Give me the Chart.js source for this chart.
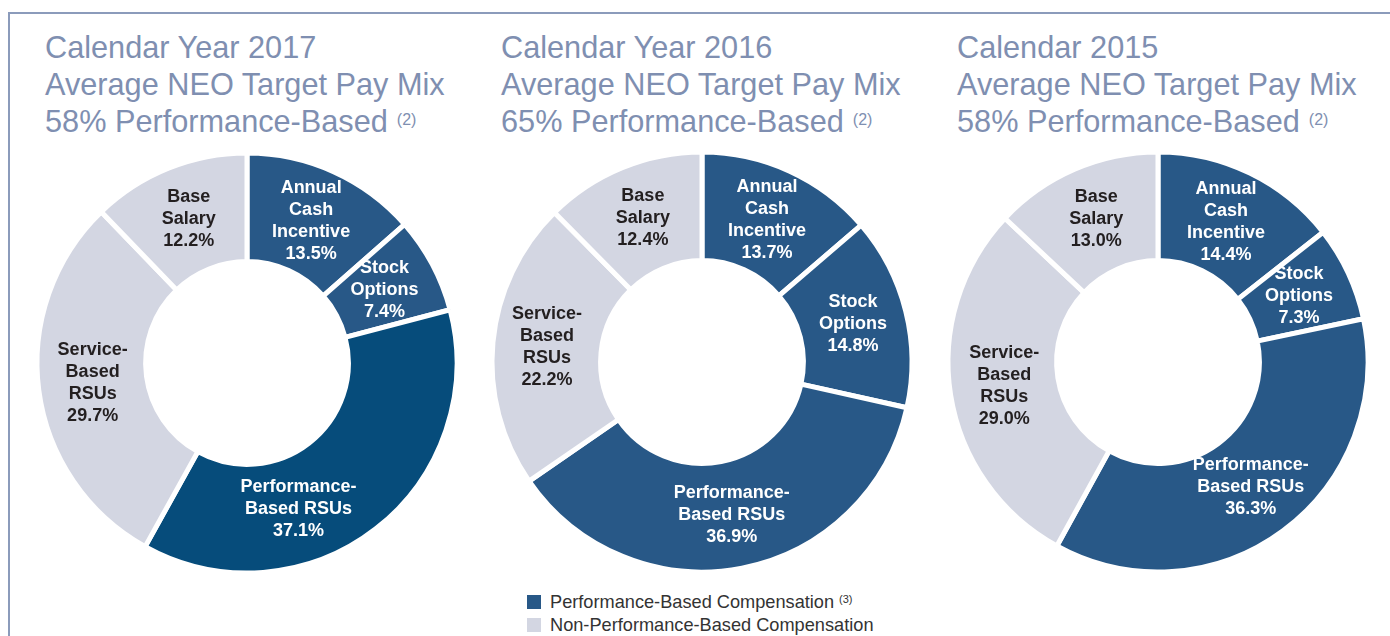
<!DOCTYPE html>
<html>
<head>
<meta charset="utf-8">
<script src="https://cdn.jsdelivr.net/npm/chart.js@4"></script>
<style>
    html, body { margin: 0; padding: 0; background: #fff; }
    #page {
        position: relative;
        width: 1390px;
        height: 636px;
        overflow: hidden;
        font-family: "Liberation Sans", Arial, sans-serif;
    }
    .frame-top { position: absolute; left: 8px; top: 12px; width: 1382px; height: 2px; background: #8b9bbb; }
    .frame-left { position: absolute; left: 8px; top: 12px; width: 2px; height: 624px; background: #8b9bbb; }
    .title {
        position: absolute;
        top: 29px;
        font-size: 30.7px;
        line-height: 37px;
        color: #7f8fb1;
        white-space: nowrap;
    }
    .title sup { font-size: 16px; vertical-align: top; position: relative; top: -2px; margin-left: 9px; }
    canvas.donut { position: absolute; }
    .legend { position: absolute; left: 527px; top: 592px; font-size: 18.2px; color: #333; }
    .legend-row { height: 23px; line-height: 21px; white-space: nowrap; }
    .legend-row .swatch { display: inline-block; width: 14px; height: 14px; margin-right: 9px; vertical-align: -1px; }
    .legend-row sup { font-size: 11px; vertical-align: top; position: relative; top: -3px; margin-left: 5px; }
</style>
</head>
<body>
<div id="page">
    <div class="frame-top"></div>
    <div class="frame-left"></div>
    <div class="title" id="title0" style="left:45px"></div>
    <div class="title" id="title1" style="left:501px"></div>
    <div class="title" id="title2" style="left:957px"></div>
    <canvas class="donut" id="donut0" width="440" height="440" style="left:27px; top:143px"></canvas>
    <canvas class="donut" id="donut1" width="440" height="440" style="left:482px; top:142px"></canvas>
    <canvas class="donut" id="donut2" width="440" height="440" style="left:938px; top:142px"></canvas>
    <div class="legend" id="legend"></div>
</div>
<script>
    // Data
    const categories = ['Annual Cash Incentive', 'Stock Options', 'Performance-Based RSUs', 'Service-Based RSUs', 'Base Salary'];
    const labelLines = [['Annual', 'Cash', 'Incentive'], ['Stock', 'Options'], ['Performance-', 'Based RSUs'], ['Service-', 'Based', 'RSUs'], ['Base', 'Salary']];
    const performanceBased = [true, true, true, false, false];
    const periods = ['Calendar Year 2017', 'Calendar Year 2016', 'Calendar 2015'];
    const performanceShare = [58, 65, 58];
    const pay2017 = [13.5, 7.4, 37.1, 29.7, 12.2];
    const pay2016 = [13.7, 14.8, 36.9, 22.2, 12.4];
    const pay2015 = [14.4, 7.3, 36.3, 29.0, 13.0];
    const legendLabels = ['Performance-Based Compensation', 'Non-Performance-Based Compensation'];

    const DARK = '#285887';
    const DARK_2017_RSU = '#064c7b';
    const LIGHT = '#d3d6e2';

    // Titles
    periods.forEach(function(period, i) {
        document.getElementById('title' + i).innerHTML =
            period + '<br>Average NEO Target Pay Mix<br>' +
            performanceShare[i] + '% Performance-Based<sup>(2)</sup>';
    });

    // Legend
    document.getElementById('legend').innerHTML =
        '<div class="legend-row"><span class="swatch" style="background:' + DARK + '"></span>' + legendLabels[0] + '<sup>(3)</sup></div>' +
        '<div class="legend-row"><span class="swatch" style="background:' + LIGHT + '"></span>' + legendLabels[1] + '</div>';

    // Slice labels drawn at the middle of each ring segment
    const sliceLabels = {
        id: 'sliceLabels',
        afterDatasetsDraw: function(chart, args, opts) {
            const ctx = chart.ctx;
            const meta = chart.getDatasetMeta(0);
            const values = chart.data.datasets[0].data;
            ctx.save();
            ctx.font = 'bold 18px "Liberation Sans", Arial, sans-serif';
            ctx.textAlign = 'center';
            ctx.textBaseline = 'middle';
            meta.data.forEach(function(arc, i) {
                const p = arc.getProps(['x', 'y', 'startAngle', 'endAngle', 'innerRadius', 'outerRadius'], true);
                const mid = (p.startAngle + p.endAngle) / 2;
                const r = (p.innerRadius + p.outerRadius) / 2;
                const nudge = (opts.nudge && opts.nudge[i]) || [0, 0];
                const cx = p.x + Math.cos(mid) * r + nudge[0];
                const cy = p.y + Math.sin(mid) * r + nudge[1];
                const lines = labelLines[i].concat([values[i].toFixed(1) + '%']);
                const lh = 22;
                ctx.fillStyle = performanceBased[i] ? '#ffffff' : '#231f20';
                lines.forEach(function(line, k) {
                    ctx.fillText(line, cx, cy + (k - (lines.length - 1) / 2) * lh);
                });
            });
            ctx.restore();
        }
    };

    function makeDonut(id, values, colors, nudge) {
        const ctx = document.getElementById(id).getContext('2d');
        return new Chart(ctx, {
            type: 'doughnut',
            data: {
                labels: categories,
                datasets: [{
                    data: values,
                    backgroundColor: colors,
                    borderColor: '#ffffff',
                    borderWidth: 5
                }]
            },
            options: {
                responsive: false,
                animation: false,
                radius: 210,
                cutout: 105,
                layout: { padding: 0 },
                plugins: {
                    legend: { display: false },
                    tooltip: { enabled: false },
                    sliceLabels: { nudge: nudge }
                }
            },
            plugins: [sliceLabels]
        });
    }

    const baseColors = performanceBased.map(function(p) { return p ? DARK : LIGHT; });
    const colors2017 = baseColors.slice();
    colors2017[2] = DARK_2017_RSU;

    makeDonut('donut0', pay2017, colors2017, { 2: [-44, 23] });
    makeDonut('donut1', pay2016, baseColors, null);
    makeDonut('donut2', pay2015, baseColors, null);
</script>
</body>
</html>
